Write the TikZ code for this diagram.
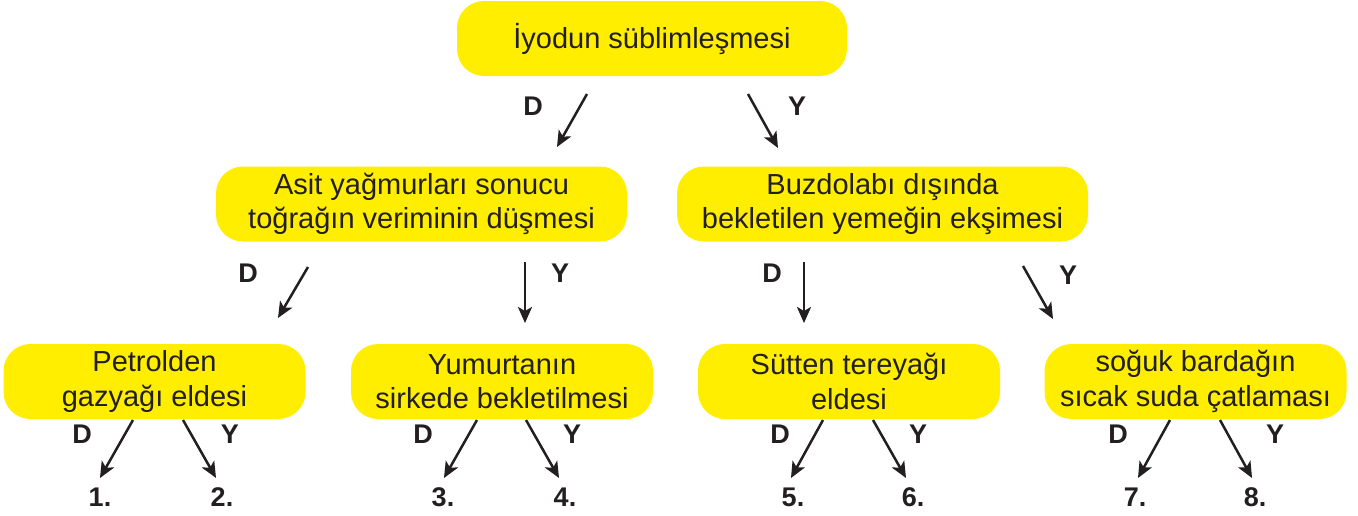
\documentclass[tikz,border=0pt]{standalone}
\usepackage{fontspec}
\setmainfont{Liberation Sans}
\usetikzlibrary{arrows.meta}
\definecolor{boxyellow}{RGB}{255,238,0}
\definecolor{ink}{RGB}{35,31,32}
\tikzset{
  box/.style={rectangle, rounded corners=27pt, fill=boxyellow, draw=none,
    minimum height=75pt, align=center, text=ink,
    font=\fontsize{29}{34.5}\selectfont, inner sep=0pt},
  smallbox/.style={box, minimum width=302pt},
  midbox/.style={box, minimum width=411pt},
  lbl/.style={text=ink, font=\fontsize{27}{30}\selectfont\bfseries, inner sep=0pt},
  arr/.style={draw=ink, line width=2.5pt,
    -{Stealth[length=16pt,width=14pt,inset=4pt]}}
}
\begin{document}
\begin{tikzpicture}[x=1pt,y=-1pt]
\useasboundingbox (0,0) rectangle (1358,515);
% boxes
\node[box, minimum width=390pt] (top) at (652,38.5) {İyodun süblimleşmesi};
\node[midbox] (asit) at (421.5,204) {Asit yağmurları sonucu\\toğrağın veriminin düşmesi};
\node[midbox] (buz) at (882.5,204) {Buzdolabı dışında\\bekletilen yemeğin ekşimesi};
\node[smallbox] (pet) at (154.5,381.5) {Petrolden\\gazyağı eldesi};
\node[smallbox] (yum) at (502,381.5) {Yumurtanın\\sirkede bekletilmesi};
\node[smallbox] (sut) at (849,381.5) {Sütten tereyağı\\eldesi};
\node[smallbox] (sog) at (1195.5,381.5) {soğuk bardağın\\sıcak suda çatlaması};
% arrow coordinates
\coordinate (tDs) at (587,94);  \coordinate (tDe) at (557,147);
\coordinate (tYs) at (748,94);  \coordinate (tYe) at (778,148);
\coordinate (aDs) at (308,267); \coordinate (aDe) at (278,318);
\coordinate (aYs) at (525,262); \coordinate (aYe) at (525,323);
\coordinate (bDs) at (804,262); \coordinate (bDe) at (804,323);
\coordinate (bYs) at (1023,266); \coordinate (bYe) at (1053,319);
\coordinate (p1s) at (133,420); \coordinate (p1e) at (100,478);
\coordinate (p2s) at (183,420); \coordinate (p2e) at (216,478);
\coordinate (y1s) at (477,420); \coordinate (y1e) at (444,478);
\coordinate (y2s) at (526,420); \coordinate (y2e) at (559,478);
\coordinate (s1s) at (823,420); \coordinate (s1e) at (791,478);
\coordinate (s2s) at (873,420); \coordinate (s2e) at (906,478);
\coordinate (g1s) at (1170,420); \coordinate (g1e) at (1138,478);
\coordinate (g2s) at (1220,420); \coordinate (g2e) at (1252,478);
% arrows
\foreach \a in {tD,tY,aD,aY,bD,bY,p1,p2,y1,y2,s1,s2,g1,g2}
  \draw[arr] (\a s) -- (\a e);
% labels
\node[lbl] (ltD) at (533,106) {D};
\node[lbl] (ltY) at (797,106) {Y};
\node[lbl] (laD) at (248,273) {D};
\node[lbl] (laY) at (560,273) {Y};
\node[lbl] (lbD) at (772,273) {D};
\node[lbl] (lbY) at (1068,275) {Y};
\node[lbl] (lpD) at (82,434) {D};
\node[lbl] (lpY) at (230,434) {Y};
\node[lbl] (lyD) at (423,434) {D};
\node[lbl] (lyY) at (572,434) {Y};
\node[lbl] (lsD) at (780,434) {D};
\node[lbl] (lsY) at (918,434) {Y};
\node[lbl] (lgD) at (1118,434) {D};
\node[lbl] (lgY) at (1275,434) {Y};
% numbers
\node[lbl] (n1) at (100,497) {1.};
\node[lbl] (n2) at (222,497) {2.};
\node[lbl] (n3) at (443,497) {3.};
\node[lbl] (n4) at (565,497) {4.};
\node[lbl] (n5) at (793,497) {5.};
\node[lbl] (n6) at (913,497) {6.};
\node[lbl] (n7) at (1135,497) {7.};
\node[lbl] (n8) at (1255,497) {8.};
\end{tikzpicture}
\end{document}
